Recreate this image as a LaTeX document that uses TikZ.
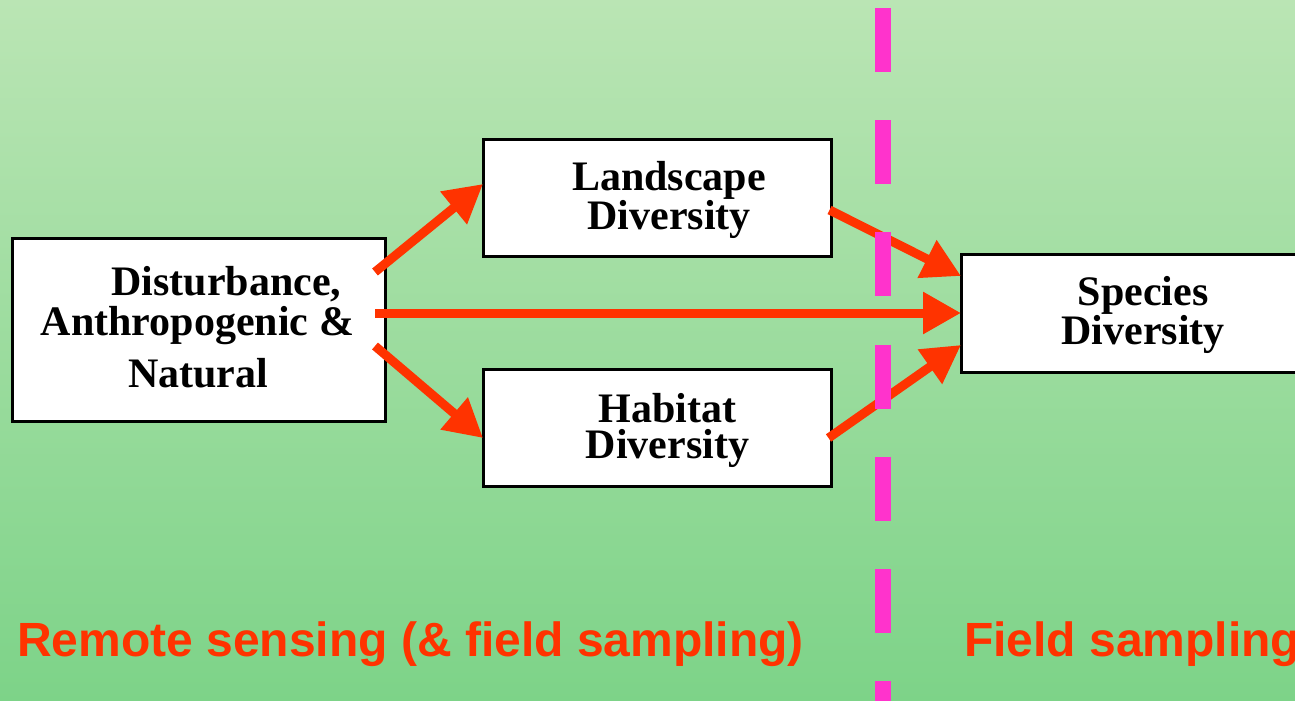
\documentclass[tikz,border=0pt]{standalone}
\usepackage{fontspec}
\setmainfont{Liberation Serif}
\setsansfont{Liberation Sans}
\usetikzlibrary{arrows.meta,calc}
\definecolor{bgtop}{RGB}{186,229,180}
\definecolor{bgbot}{RGB}{125,211,136}
\definecolor{arr}{RGB}{255,51,0}
\definecolor{pinkline}{RGB}{255,51,204}
\begin{document}
\begin{tikzpicture}[x=1pt,y=-1pt,
 box/.style={draw=black,line width=3pt,fill=white,inner sep=0pt,outer sep=0pt},
 boxtxt/.style={font=\bfseries\fontsize{42}{36}\selectfont,align=center,inner sep=0pt},
 region/.style={font=\sffamily\bfseries\fontsize{48}{48}\selectfont,text=arr,anchor=base west,inner sep=0pt},
 flow/.style={draw=arr,line width=9pt,-{Triangle[length=38pt,width=40pt]}},
 divider/.style={draw=pinkline,line width=16pt,dash pattern=on 64pt off 48.2pt}]
\useasboundingbox (0,0) rectangle (1295,701);
\shade[top color=bgtop,bottom color=bgbot] (0,0) rectangle (1295,701);

% boxes
\node[box,minimum width=373pt,minimum height=183pt] (dist) at (198.5,329.5) {};
\node[box,minimum width=348.5pt,minimum height=117pt] (land) at (657.25,197.5) {};
\node[box,minimum width=348.5pt,minimum height=117pt] (hab) at (657.25,427.5) {};
\node[box,minimum width=349pt,minimum height=118pt] (spec) at (1135.5,313) {};

% box texts
\node[boxtxt,anchor=base] (dist1) at (226.5,295) {Disturbance,};
\node[boxtxt,anchor=base] (dist2) at (197.5,335) {Anthropogenic \&};
\node[boxtxt,anchor=base] (dist3) at (198,387) {Natural};
\node[boxtxt] (landt) at (669,200) {Landscape\\Diversity};
\node[boxtxt] (habt) at (667.5,430) {Habitat\\Diversity};
\node[boxtxt] (spect) at (1143,315) {Species\\Diversity};

% connectors
\draw[flow] ([xshift=-10pt,yshift=57.5pt]dist.east) -- ([yshift=13.5pt]land.west);
\draw[flow] ([xshift=-10pt,yshift=16.5pt]dist.east) -- (spec.west);
\draw[flow] ([xshift=-10pt,yshift=-16.5pt]dist.east) -- ([yshift=-10.5pt]hab.west);
\draw[flow] ([xshift=-2pt,yshift=-12.5pt]land.east) -- ([yshift=37pt]spec.west);
\draw[flow] ([xshift=-3pt,yshift=-10.5pt]hab.east) -- ([yshift=-32pt]spec.west);

% divider
\coordinate (dtop) at (883,8);
\coordinate (dbot) at (883,720);
\draw[divider] (dtop) -- (dbot);

% region labels
\node[region] (rs) at (17,656) {Remote sensing (\& field sampling)};
\node[region] (fs) at (964,656) {Field sampling};
\end{tikzpicture}
\end{document}
